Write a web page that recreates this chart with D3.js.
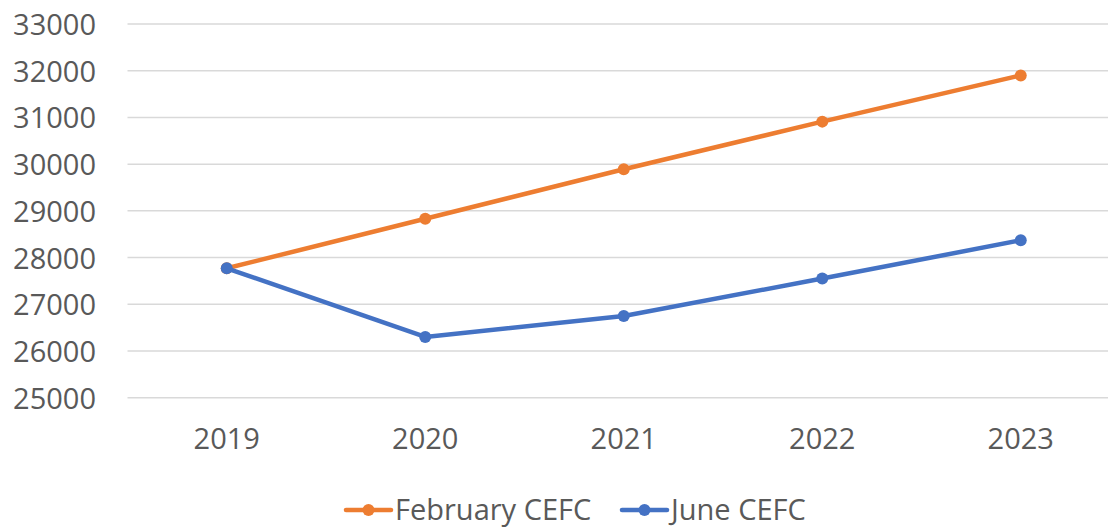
<!DOCTYPE html>
<html>
<head>
<meta charset="utf-8">
<script src="https://cdn.jsdelivr.net/npm/d3@7"></script>
<style>
  body { margin: 0; background: #fff; }
  #chart text { font-family: "Open Sans", sans-serif; fill: #595959; }
</style>
</head>
<body>
<div id="chart"></div>
<script>
var years = ["2019", "2020", "2021", "2022", "2023"];
var february = [27770, 28830, 29890, 30910, 31900];
var june = [27770, 26300, 26750, 27550, 28370];
var yTicks = [25000, 26000, 27000, 28000, 29000, 30000, 31000, 32000, 33000];
var seriesNames = ["February CEFC", "June CEFC"];
var seriesColors = ["#ED7D31", "#4472C4"];

var width = 1108, height = 527;

var svg = d3.select("#chart").append("svg")
    .attr("width", width)
    .attr("height", height)

// plot area runs past the right edge in the original
var x = d3.scaleBand()
    .domain(years)
    .range([127.5, 1120]);

var y = d3.scaleLinear()
    .domain([25000, 33000])
    .range([397.7, 24]);

/* gridlines */
svg.append("g")
    .selectAll("line")
    .data(yTicks)
    .enter().append("line")
    .attr("x1", x.range()[0])
    .attr("x2", x.range()[1])
    .attr("y1", function (d) { return y(d) })
    .attr("y2", function (d) { return y(d) })
    .attr("stroke", "#D9D9D9")
    .attr("stroke-width", 1.5)

var yAxis = svg.append("g")
    .attr("transform", "translate(96,0)")
    .call(d3.axisLeft(y).tickValues(yTicks).tickSize(0).tickPadding(0).tickFormat(d3.format("d")))
yAxis.select(".domain").remove();
yAxis.selectAll("text").style("font-size", "29px").attr("dy", "0.36em");

var xAxis = svg.append("g")
    .attr("transform", "translate(0,397.7)")
    .call(d3.axisBottom(x).tickSize(0).tickPadding(0))
xAxis.select(".domain").remove();
xAxis.selectAll("text").style("font-size", "29px").attr("y", 0).attr("dy", "1.78em");

var series = [february, june];
var line = d3.line()
    .x(function (d, i) { return x(years[i]) + x.bandwidth() / 2 })
    .y(function (d) { return y(d) });

series.forEach(function (values, s) {
    svg.append("path")
        .datum(values)
        .attr("d", line)
        .attr("fill", "none")
        .attr("stroke", seriesColors[s])
        .attr("stroke-width", 4.5)
        .attr("stroke-linejoin", "round")
        .attr("stroke-linecap", "round")

    svg.append("g")
        .selectAll("circle")
        .data(values)
        .enter().append("circle")
        .attr("cx", function (d, i) { return x(years[i]) + x.bandwidth() / 2 })
        .attr("cy", function (d) { return y(d) })
        .attr("r", 6)
        .attr("fill", seriesColors[s])
});

/* legend */
var legendX = [346, 622];
var legend = svg.append("g")
    .selectAll("g")
    .data(seriesNames)
    .enter().append("g")
    .attr("transform", function (d, i) { return "translate(" + legendX[i] + ",510)" })

legend.append("line")
    .attr("x1", 0).attr("x2", 45)
    .attr("stroke", function (d, i) { return seriesColors[i] })
    .attr("stroke-width", 4.5)
    .attr("stroke-linecap", "round")
legend.append("circle")
    .attr("cx", 22.5)
    .attr("r", 6)
    .attr("fill", function (d, i) { return seriesColors[i] })
legend.append("text")
    .attr("x", 49)
    .attr("dy", "0.36em")
    .style("font-size", "29px")
    .text(function (d) { return d })
</script>
</body>
</html>
